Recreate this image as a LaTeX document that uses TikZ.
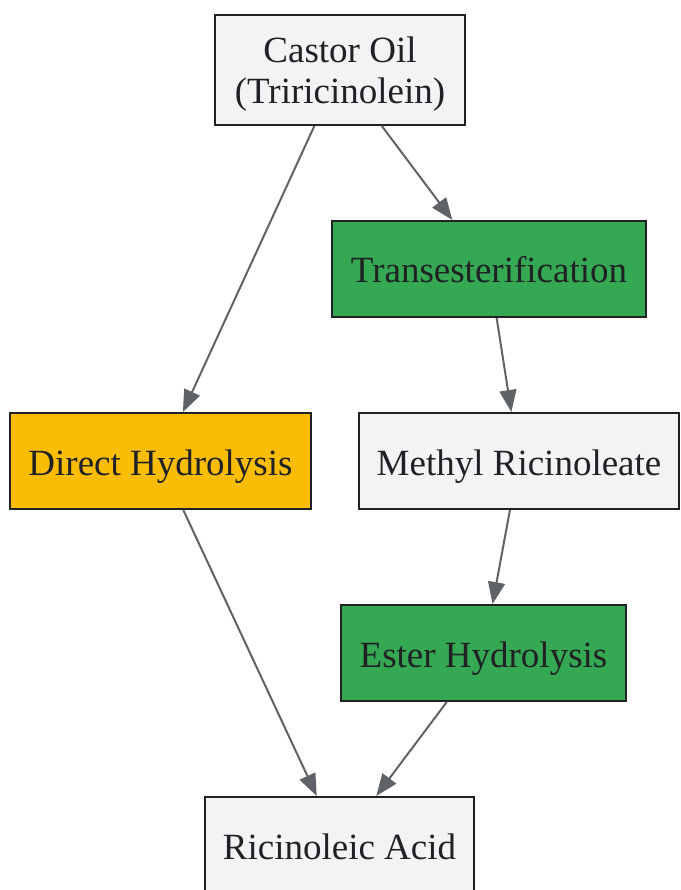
\documentclass[tikz,border=0pt]{standalone}
\usepackage{fontspec}
\setmainfont{Liberation Serif}
\usetikzlibrary{arrows.meta}

\definecolor{boxgray}{HTML}{F1F3F4}
\definecolor{stepgreen}{HTML}{34A853}
\definecolor{stepyellow}{HTML}{FBBC04}
\definecolor{linegray}{HTML}{5F6368}
\definecolor{edgedark}{HTML}{202124}

\begin{document}
\begin{tikzpicture}[x=1pt, y=-1pt,
  box/.style={draw=edgedark, line width=2pt, fill=boxgray, inner sep=0pt,
    minimum height=96pt, align=center, text=edgedark,
    text height=28pt, text depth=0pt,
    font=\fontsize{37}{41}\selectfont},
  greenbox/.style={box, fill=stepgreen},
  yellowbox/.style={box, fill=stepyellow},
  flow/.style={draw=linegray, line width=2pt,
    -{Triangle[length=22pt,width=17pt]}}]
\useasboundingbox (0,0) rectangle (680,890);

\node[box, minimum width=250pt, minimum height=110pt, text height=, text depth=0pt] (castor) at (340,70) {Castor Oil\\(Triricinolein)};
\node[greenbox, minimum width=314pt] (trans) at (489,269) {Transesterification};
\node[yellowbox, minimum width=301pt] (direct) at (160.5,461) {Direct Hydrolysis};
\node[box, minimum width=320pt] (methyl) at (519,461) {Methyl Ricinoleate};
\node[greenbox, minimum width=285pt] (ester) at (483.5,653) {Ester Hydrolysis};
\node[box, minimum width=269pt] (acid) at (339.5,845) {Ricinoleic Acid};

\draw[flow] (castor) -- (direct);
\draw[flow] (castor) -- (trans);
\draw[flow] (trans) -- (methyl);
\draw[flow] (methyl) -- (ester);
\draw[flow] (direct) -- (acid);
\draw[flow] (ester) -- (acid);
\end{tikzpicture}
\end{document}
